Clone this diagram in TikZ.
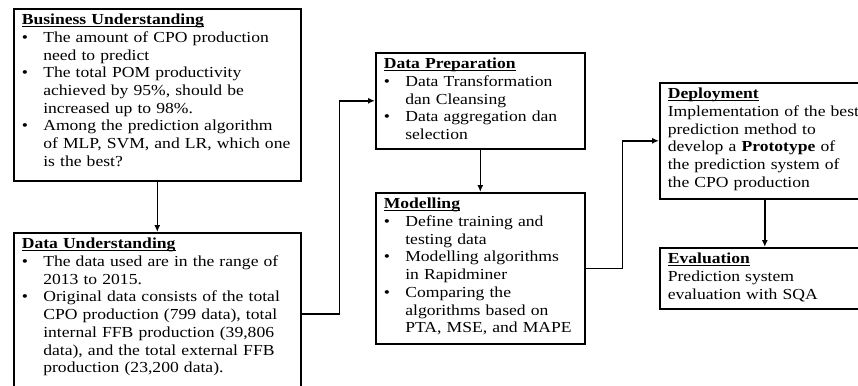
\documentclass[tikz,border=0pt]{standalone}
\usepackage{fontspec}
\setmainfont{Liberation Serif}[FakeStretch=1.15]
\usepackage{enumitem}
\setlist[itemize]{label=\textbullet, nosep, leftmargin=21.5pt, labelsep=12pt, labelwidth=9.5pt, align=left}
\usetikzlibrary{arrows.meta,shadows}

\newsavebox\headbox
\newcommand\stagehead[1]{\sbox\headbox{\textbf{#1}}%
  \rlap{\usebox\headbox}\rule[-2.2pt]{\wd\headbox}{0.9pt}}

\tikzset{
  stage/.style={draw, line width=1.6pt, anchor=north west, align=left,
    inner xsep=8pt, inner ysep=5pt, text height=11pt, fill=white,
    drop shadow={shadow xshift=1.2pt, shadow yshift=-1.2pt, opacity=0.35},
    font=\fontsize{15.3}{17.7}\selectfont},
  flow/.style={line width=1.6pt, -{Latex[length=7pt,width=6pt]}}
}

\begin{document}
\begin{tikzpicture}[x=1pt,y=-1pt]

\clip (0,0) rectangle (858,385);

\node[stage, text width=271pt, text depth=151pt] (bu) at (13,8)
  {\stagehead{Business Understanding}
   \begin{itemize}
   \item The amount of CPO production\\ need to predict
   \item The total POM productivity\\ achieved by 95\%, should be\\ increased up to 98\%.
   \item Among the prediction algorithm\\ of MLP, SVM, and LR, which one\\ is the best?
   \end{itemize}};

\node[stage, text width=271pt, text depth=141pt] (du) at (13,232)
  {\stagehead{Data Understanding}
   \begin{itemize}
   \item The data used are in the range of\\ 2013 to 2015.
   \item Original data consists of the total\\ CPO production (799 data), total\\ internal FFB production (39,806\\ data), and the total external FFB\\ production (23,200 data).
   \end{itemize}};

\node[stage, text width=193pt, text depth=75pt] (dp) at (375,52)
  {\stagehead{Data Preparation}
   \begin{itemize}
   \item Data Transformation\\ dan Cleansing
   \item Data aggregation dan\\ selection
   \end{itemize}};

\node[stage, text width=193pt, text depth=130pt] (mo) at (375,192)
  {\stagehead{Modelling}
   \begin{itemize}
   \item Define training and\\ testing data
   \item Modelling algorithms\\ in Rapidminer
   \item Comparing the\\ algorithms based on\\ PTA, MSE, and MAPE
   \end{itemize}};

\node[stage, text width=194pt, text depth=95pt] (de) at (659,82)
  {\stagehead{Deployment}\\
   Implementation of the best\\ prediction method to\\
   develop a \textbf{Prototype} of\\ the prediction system of\\ the CPO production};

\node[stage, text width=194pt, text depth=40pt] (ev) at (659,247)
  {\stagehead{Evaluation}\\
   Prediction system\\ evaluation with SQA};

\draw[flow] (bu.south) -- (du.north);
\draw[flow] (du.east) -- ++(38,0) |- (dp.west);
\draw[flow] (dp.south) -- (mo.north);
\draw[flow] (mo.east) -- ++(37,0) |- (de.west);
\draw[flow] (de.south) -- (ev.north);

\end{tikzpicture}
\end{document}
